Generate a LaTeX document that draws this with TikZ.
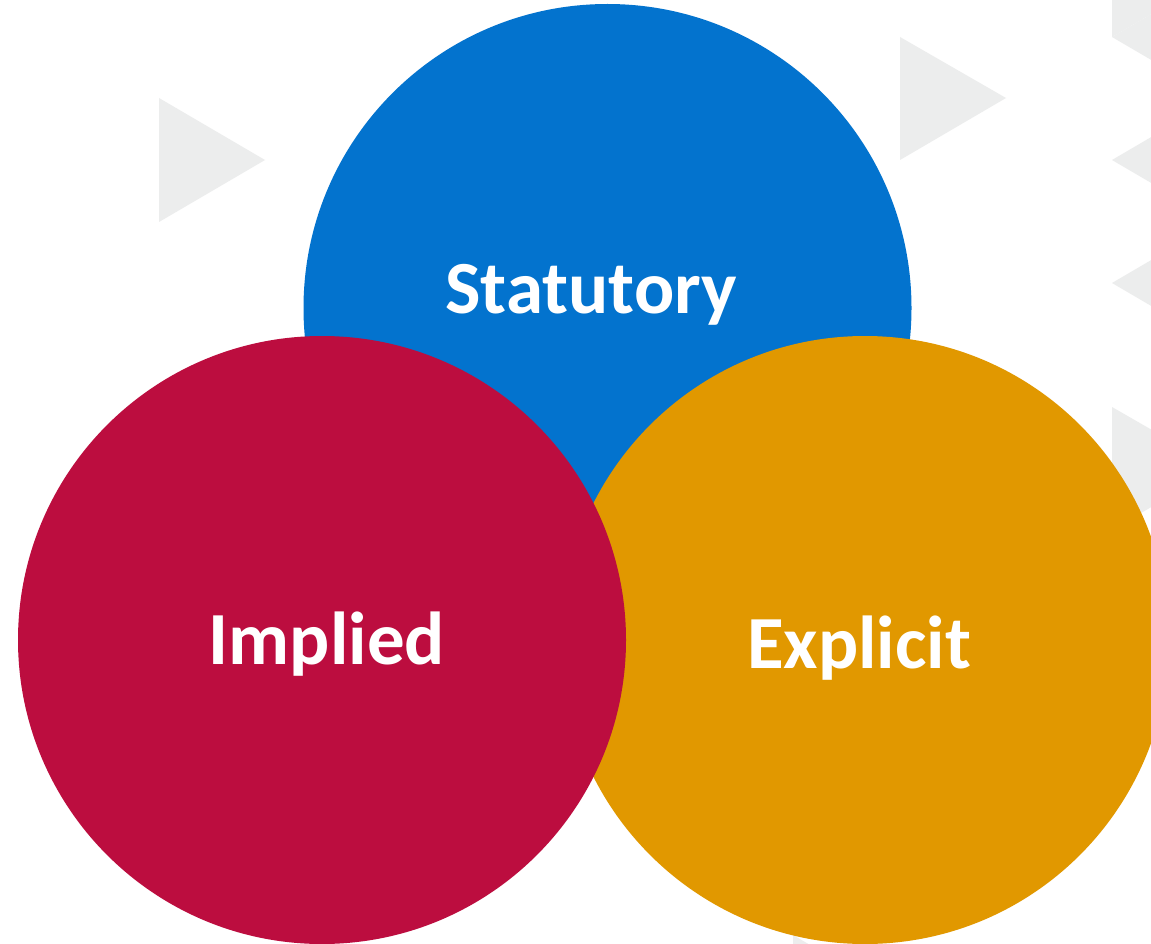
\documentclass[tikz,border=0pt]{standalone}
\usepackage{fontspec}
\setmainfont{Carlito}
\definecolor{cblue}{HTML}{0373CE}
\definecolor{cred}{HTML}{BC0D3F}
\definecolor{corange}{HTML}{E19800}
\definecolor{tgray}{HTML}{ECEDED}
\begin{document}
\begin{tikzpicture}[x=1pt,y=-1pt,
  disc/.style={circle,minimum size=608pt,inner sep=0pt,draw=none},
  lbl/.style={text=white,font=\fontsize{75}{80}\selectfont\bfseries,inner sep=0pt,anchor=base},
  tri/.style={fill=tgray,draw=none}]
\useasboundingbox (0,0) rectangle (1151,944);
\clip (0,0) rectangle (1151,944);
\fill[white] (0,0) rectangle (1151,944);
% background triangles
\fill[tri] (159,98) -- (159,222) -- (265,160) -- cycle;
\fill[tri] (900,37) -- (900,160) -- (1006,98) -- cycle;
\fill[tri] (1112,-86) -- (1112,37) -- (1218,-25) -- cycle;
\fill[tri] (1112,37) -- (1218,-25) -- (1218,99) -- cycle;
\fill[tri] (1112,160) -- (1218,98) -- (1218,222) -- cycle;
\fill[tri] (1112,283) -- (1218,221) -- (1218,345) -- cycle;
\fill[tri] (1112,407) -- (1112,530) -- (1218,468) -- cycle;
\fill[tri] (793,935) -- (793,1058) -- (899,997) -- cycle;
% circles
\node[disc,fill=cblue] (statc) at (607.5,308) {};
\node[disc,fill=corange] (explc) at (865,640) {};
\node[disc,fill=cred] (implc) at (322,640) {};
% labels
\node[lbl] (stat) at (591,313) {Statutory};
\node[lbl] (impl) at (327,664) {Implied};
\node[lbl] (expl) at (859,668) {Explicit};
\end{tikzpicture}
\end{document}
